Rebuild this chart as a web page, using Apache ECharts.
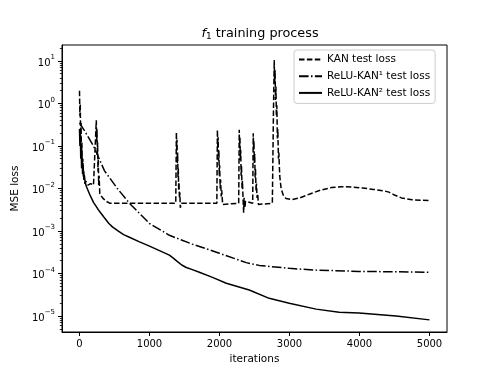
<!DOCTYPE html>
<html>
<head>
<meta charset="utf-8">
<script src="https://cdn.jsdelivr.net/npm/echarts@6/dist/echarts.min.js"></script>
<style>html,body{margin:0;padding:0;background:#fff}#main{width:498px;height:374px}</style>
</head>
<body>
<div id="main"></div>
<script>
// tick positions
var xTicks = [0, 1000, 2000, 3000, 4000, 5000];
var yTicks = [1e-5, 1e-4, 1e-3, 1e-2, 1e-1, 1, 10];

// [iteration, loss]
var kanLoss = [
    [0, 2.0], [6, 0.5], [11, 1.0], [16, 0.15], [22, 0.35], [28, 0.06], [34, 0.12], [42, 0.03], [48, 0.05],
    [56, 0.018], [62, 0.025], [75, 0.013], [90, 0.015], [120, 0.012], [160, 0.013], [200, 0.012], [225, 0.013],
    [240, 0.4], [246, 0.12], [250, 0.25], [255, 0.06], [259, 0.12], [264, 0.025], [268, 0.05], [274, 0.012],
    [280, 0.02], [290, 0.0075], [330, 0.006], [380, 0.005], [430, 0.0045],
    [1375, 0.0045], [1384, 0.21], [1389, 0.08], [1393, 0.14], [1398, 0.04], [1402, 0.07], [1407, 0.018],
    [1411, 0.03], [1417, 0.009], [1421, 0.014], [1428, 0.006], [1434, 0.008], [1440, 0.0035], [1455, 0.0045],
    [1962, 0.0045], [1970, 0.24], [1975, 0.09], [1980, 0.16], [1986, 0.045], [1991, 0.08], [1997, 0.02],
    [2002, 0.035], [2010, 0.01], [2016, 0.016], [2025, 0.0065], [2032, 0.009], [2045, 0.0042], [2060, 0.0045],
    [2274, 0.0045], [2282, 0.24], [2287, 0.09], [2292, 0.16], [2298, 0.045], [2303, 0.08], [2309, 0.02],
    [2314, 0.035], [2322, 0.01], [2328, 0.015], [2336, 0.006], [2345, 0.0027], [2352, 0.006], [2362, 0.0035],
    [2372, 0.005], [2385, 0.0045],
    [2474, 0.0045], [2482, 0.2], [2487, 0.08], [2492, 0.13], [2498, 0.04], [2503, 0.065], [2509, 0.018],
    [2514, 0.03], [2522, 0.009], [2528, 0.013], [2537, 0.006], [2545, 0.0075], [2556, 0.0042], [2568, 0.0045],
    [2755, 0.0045], [2770, 0.5], [2782, 10.5], [2788, 3], [2794, 6], [2800, 1.2], [2806, 2.5], [2813, 0.5],
    [2819, 0.9], [2827, 0.15], [2833, 0.25], [2842, 0.05], [2848, 0.07], [2860, 0.02], [2880, 0.01],
    [2910, 0.007], [2950, 0.0058], [3040, 0.0055], [3150, 0.006], [3300, 0.0075], [3450, 0.0092], [3600, 0.0105],
    [3750, 0.011], [3900, 0.0108], [4050, 0.0102], [4200, 0.0095], [4350, 0.0088], [4420, 0.0082], [4500, 0.007],
    [4600, 0.006], [4750, 0.0054], [5000, 0.0052]
];
var relu1Loss = [
    [0, 0.35], [100, 0.19], [200, 0.1], [357, 0.026], [540, 0.01], [713, 0.0045], [1000, 0.0015],
    [1284, 0.00079], [1612, 0.00049], [1997, 0.0003], [2382, 0.00018], [2568, 0.000155], [2996, 0.000132],
    [3380, 0.00012], [3994, 0.000112], [5000, 0.000107]
];
var relu2Loss = [
    [0, 0.25], [6, 0.1], [12, 0.2], [18, 0.05], [24, 0.1], [30, 0.03], [36, 0.06], [44, 0.022], [52, 0.035],
    [62, 0.016], [70, 0.02], [80, 0.014], [100, 0.011], [143, 0.0074], [200, 0.0047], [285, 0.0029],
    [350, 0.0021], [420, 0.0015], [470, 0.00125], [550, 0.001], [630, 0.00082], [713, 0.00071], [850, 0.00056],
    [1000, 0.00044], [1150, 0.00034], [1284, 0.00027], [1340, 0.00023], [1400, 0.00019], [1460, 0.000158],
    [1526, 0.000138], [1612, 0.000123], [1712, 0.000107], [1900, 0.000081], [2097, 0.000059], [2425, 0.000041],
    [2710, 0.000026], [2996, 0.00002], [3380, 0.0000145], [3709, 0.0000123], [3994, 0.0000117],
    [4522, 0.00001], [5000, 0.0000081]
];
var seriesNames = ['KAN test loss', 'ReLU-KAN¹ test loss', 'ReLU-KAN² test loss'];

var yMin = 4.2e-6, yMax = 23.7;
var yMinor = [];
for (var k = -6; k <= 1; k++) {
    for (var m = 2; m <= 9; m++) {
        var v = m * Math.pow(10, k);
        if (v > yMin && v < yMax) yMinor.push(v);
    }
}

var font = 'DejaVu Sans';
var myChart = echarts.init(document.getElementById('main'));

function lineSeries(name, data, dash) {
    return {
        name: name,
        type: 'line',
        data: data,
        symbol: 'none',
        showSymbol: false,
        itemStyle: { color: '#000' },
        lineStyle: { color: '#000', width: 1.5, type: dash }
    };
}

var option = {
    animation: false,
    backgroundColor: '#fff',
    title: {
        text: '{i|f}{sub|1} training process',
        left: 255,
        textAlign: 'center',
        top: 21,
        textStyle: {
            fontFamily: font, fontSize: 12.8, fontWeight: 'normal', color: '#000',
            rich: {
                i: { fontFamily: font, fontSize: 12.8, fontStyle: 'italic', color: '#000' },
                sub: { fontFamily: font, fontSize: 9, color: '#000', verticalAlign: 'bottom', padding: [6, 0, 0, 0] }
            }
        }
    },
    legend: {
        data: seriesNames,
        orient: 'vertical',
        left: 294,
        top: 50,
        padding: [4, 5, 5, 4],
        itemWidth: 23,
        itemHeight: 11,
        itemGap: 5.7,
        itemStyle: { opacity: 0 },
        backgroundColor: '#fff',
        borderColor: '#ccc',
        borderWidth: 1,
        borderRadius: 3,
        textStyle: { fontFamily: font, fontSize: 10.5, color: '#000' }
    },
    grid: {
        left: 62, right: 51, top: 45, bottom: 42,
        show: true, borderColor: '#000', borderWidth: 1
    },
    xAxis: {
        type: 'value',
        min: -250,
        max: 5250,
        name: 'iterations',
        nameLocation: 'middle',
        nameGap: 21,
        nameTextStyle: { fontFamily: font, fontSize: 10.5, color: '#000' },
        axisLine: { onZero: false, lineStyle: { color: '#000', width: 1 } },
        axisTick: { length: 4, lineStyle: { color: '#000' }, customValues: xTicks },
        axisLabel: {
            fontFamily: font, fontSize: 10, color: '#000', margin: 7, customValues: xTicks,
            formatter: function (v) { return String(v); }
        },
        splitLine: { show: false }
    },
    yAxis: [{
        type: 'log',
        min: yMin,
        max: yMax,
        name: 'MSE loss',
        nameLocation: 'middle',
        nameGap: 35,
        nameTextStyle: { fontFamily: font, fontSize: 10.5, color: '#000' },
        axisLine: { onZero: false, lineStyle: { color: '#000', width: 1 } },
        axisTick: { length: 4, lineStyle: { color: '#000' }, customValues: yTicks },
        axisLabel: {
            margin: 7,
            customValues: yTicks,
            formatter: function (v) {
                var e = Math.round(Math.log10(v));
                if (Math.abs(Math.log10(v) - e) > 1e-6) return '';
                return '{b|10}{s|' + (e < 0 ? '\u2212' + (-e) : e) + '}';
            },
            rich: {
                b: { fontFamily: font, fontSize: 10, color: '#000', verticalAlign: 'bottom', lineHeight: 14 },
                s: { fontFamily: font, fontSize: 7, color: '#000', verticalAlign: 'top', lineHeight: 14 }
            }
        },
        splitLine: { show: false }
    }, {
        type: 'log',
        min: yMin,
        max: yMax,
        position: 'left',
        axisLine: { show: false, onZero: false },
        axisTick: { length: 2.2, lineStyle: { color: '#000', width: 0.8 }, customValues: yMinor },
        axisLabel: { show: false },
        splitLine: { show: false }
    }],
    series: [
        lineSeries(seriesNames[0], kanLoss, [5.5, 2.4]),
        lineSeries(seriesNames[1], relu1Loss, [9.6, 2.4, 1.5, 2.4]),
        lineSeries(seriesNames[2], relu2Loss, 'solid')
    ]
};

myChart.setOption(option);
</script>
</body>
</html>
